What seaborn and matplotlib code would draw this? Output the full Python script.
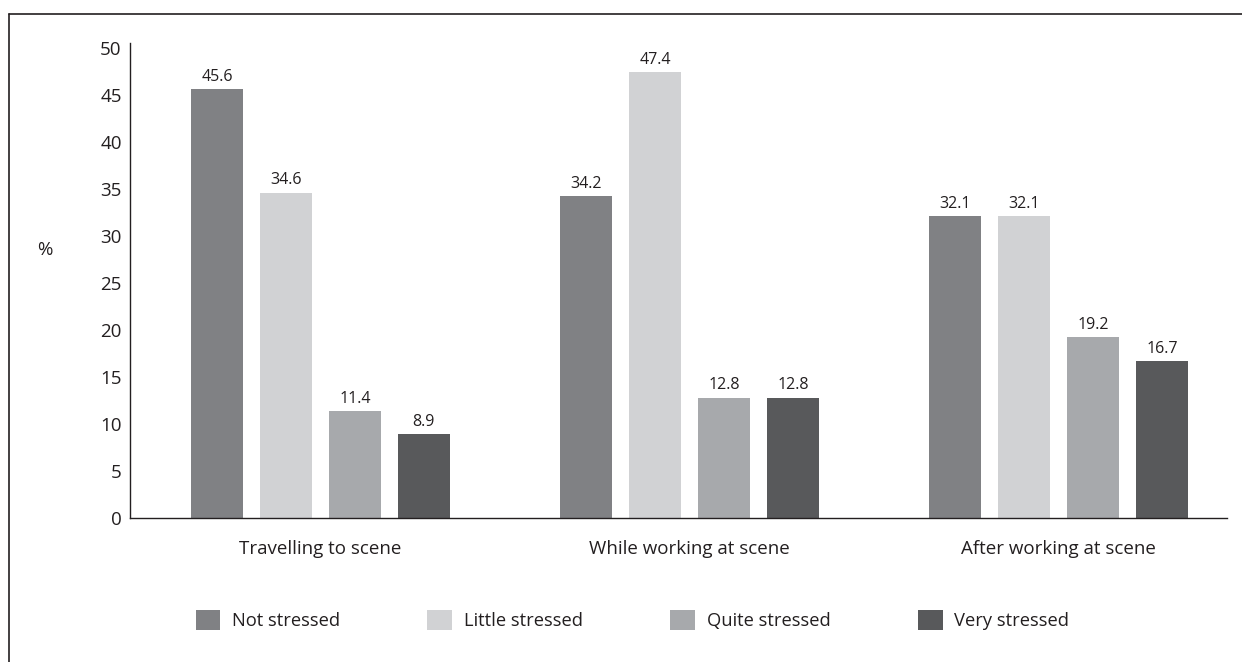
import matplotlib
matplotlib.use("Agg")
import matplotlib.pyplot as plt
import matplotlib.patches as mpatches
import seaborn as sns
import pandas as pd

# Stress levels reported during each phase of a call-out (% of respondents)
phases = ["Travelling to scene", "While working at scene", "After working at scene"]
levels = ["Not stressed", "Little stressed", "Quite stressed", "Very stressed"]
not_stressed = [45.6, 34.2, 32.1]
little_stressed = [34.6, 47.4, 32.1]
quite_stressed = [11.4, 12.8, 19.2]
very_stressed = [8.9, 12.8, 16.7]
y_ticks = [0, 5, 10, 15, 20, 25, 30, 35, 40, 45, 50]

colors = ["#808184", "#d1d2d4", "#a7a9ac", "#58595b"]

rows = []
for lvl, vals in zip(levels, [not_stressed, little_stressed, quite_stressed, very_stressed]):
    for ph, v in zip(phases, vals):
        rows.append({"phase": ph, "level": lvl, "pct": v})
df = pd.DataFrame(rows)

sns.set_theme(style="white")
plt.rcParams["font.family"] = ["Open Sans", "DejaVu Sans"]
text_color = "#231f20"

fig = plt.figure(figsize=(12.42, 6.62), dpi=100)
ax = fig.add_axes([130 / 1242, 1 - 518 / 662, (1227 - 130) / 1242, (518 - 43) / 662])

sns.barplot(data=df, x="phase", y="pct", hue="level", order=phases, hue_order=levels,
            palette=colors, width=0.748, gap=0.246, saturation=1, errorbar=None,
            legend=False, ax=ax, linewidth=0)

for cont in ax.containers:
    ax.bar_label(cont, fmt="%.1f", padding=3, fontsize=11.5, color=text_color)

ax.set_xlim(-0.516, 2.457)
ax.set_ylim(0, 50.5)
ax.set_yticks(y_ticks)
ax.set_yticklabels([str(t) for t in y_ticks])
ax.tick_params(axis="both", length=0, labelsize=13.5, colors=text_color)
ax.tick_params(axis="y", pad=6)
ax.tick_params(axis="x", pad=16)
ax.set_xlabel("")
ax.set_ylabel("")
for side in ["top", "right"]:
    ax.spines[side].set_visible(False)
for side in ["left", "bottom"]:
    ax.spines[side].set_color(text_color)
    ax.spines[side].set_linewidth(1.0)

fig.text(45 / 1242, 1 - 250 / 662, "%", fontsize=13.5, color=text_color, ha="center", va="center")

handles = [mpatches.Patch(facecolor=c, edgecolor="none", label=l) for c, l in zip(colors, levels)]
fig.legend(handles=handles, ncol=4, loc="center left",
           bbox_to_anchor=(179 / 1242, 1 - 620 / 662), frameon=False,
           fontsize=13.2, handlelength=1.36, handleheight=1.36, handletextpad=0.64,
           columnspacing=4.75, labelcolor=text_color)

# Outer frame lines along the top and left edges
fig.add_artist(plt.Line2D([9 / 1242, 1], [1 - 14 / 662, 1 - 14 / 662],
                          transform=fig.transFigure, color=text_color, linewidth=1.2))
fig.add_artist(plt.Line2D([9 / 1242, 9 / 1242], [0, 1 - 14 / 662],
                          transform=fig.transFigure, color=text_color, linewidth=1.2))

fig.savefig("out.png", dpi=100, facecolor="white")
